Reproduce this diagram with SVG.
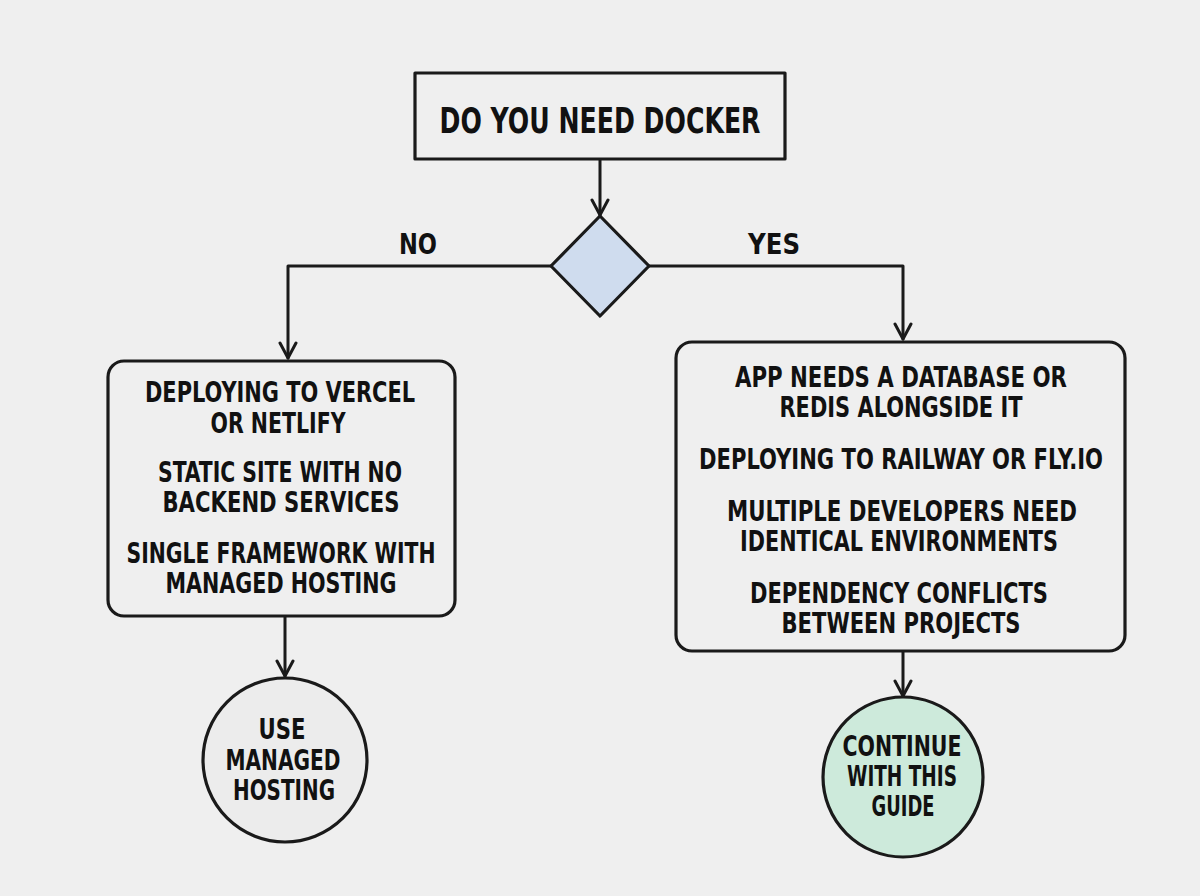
<svg xmlns="http://www.w3.org/2000/svg" width="1200" height="896" viewBox="0 0 1200 896">
<style>
.t{font-family:"DejaVu Sans Condensed","Liberation Sans",sans-serif;font-weight:bold;font-size:28px;fill:#111;text-anchor:middle}
.big{font-size:36px}
.shape{stroke:#1a1a1a;stroke-width:3.2;stroke-linejoin:round}
.line{fill:none;stroke:#1a1a1a;stroke-width:3;stroke-linecap:round;stroke-linejoin:round}
</style>
<defs>
<marker id="arr" viewBox="0 0 20 20" refX="18" refY="10" markerWidth="20" markerHeight="20" markerUnits="userSpaceOnUse" orient="auto">
<path d="M3,2 L18,10 L3,18" fill="none" stroke="#1a1a1a" stroke-width="3" stroke-linecap="round" stroke-linejoin="round"/>
</marker>
</defs>
<rect width="1200" height="896" fill="#efefef"/>
<g id="connectors">
<line class="line" x1="600" y1="159" x2="600" y2="215" marker-end="url(#arr)"/>
<polyline class="line" points="551,266 288,266 288,358" marker-end="url(#arr)"/>
<polyline class="line" points="649,266 903,266 903,339" marker-end="url(#arr)"/>
<line class="line" x1="285" y1="617" x2="285" y2="676" marker-end="url(#arr)"/>
<line class="line" x1="903" y1="652" x2="903" y2="696" marker-end="url(#arr)"/>
<text class="t" x="418" y="254" textLength="38" lengthAdjust="spacingAndGlyphs">NO</text>
<text class="t" x="774" y="254" textLength="52" lengthAdjust="spacingAndGlyphs">YES</text>
</g>
<g id="start">
<rect class="shape" x="415" y="73" width="370" height="86" fill="#efefef"/>
<text class="t big" x="600" y="133" textLength="321" lengthAdjust="spacingAndGlyphs">DO YOU NEED DOCKER</text>
</g>
<g id="decision">
<polygon class="shape" points="600,216 649,266 600,316 551,266" fill="#cfdcee"/>
</g>
<g id="no-box">
<rect class="shape" x="108" y="361" width="347" height="255" rx="16" fill="#efefef"/>
<text class="t" x="280" y="402" textLength="270" lengthAdjust="spacingAndGlyphs">DEPLOYING TO VERCEL</text>
<text class="t" x="278" y="433" textLength="135" lengthAdjust="spacingAndGlyphs">OR NETLIFY</text>
<text class="t" x="280" y="482" textLength="244" lengthAdjust="spacingAndGlyphs">STATIC SITE WITH NO</text>
<text class="t" x="281" y="512" textLength="237" lengthAdjust="spacingAndGlyphs">BACKEND SERVICES</text>
<text class="t" x="281" y="563" textLength="309" lengthAdjust="spacingAndGlyphs">SINGLE FRAMEWORK WITH</text>
<text class="t" x="281" y="593" textLength="231" lengthAdjust="spacingAndGlyphs">MANAGED HOSTING</text>
</g>
<g id="yes-box">
<rect class="shape" x="676" y="342" width="449" height="309" rx="16" fill="#efefef"/>
<text class="t" x="901" y="387" textLength="332" lengthAdjust="spacingAndGlyphs">APP NEEDS A DATABASE OR</text>
<text class="t" x="901" y="417" textLength="243" lengthAdjust="spacingAndGlyphs">REDIS ALONGSIDE IT</text>
<text class="t" x="901" y="469" textLength="404" lengthAdjust="spacingAndGlyphs">DEPLOYING TO RAILWAY OR FLY.IO</text>
<text class="t" x="902" y="521" textLength="350" lengthAdjust="spacingAndGlyphs">MULTIPLE DEVELOPERS NEED</text>
<text class="t" x="899" y="551" textLength="318" lengthAdjust="spacingAndGlyphs">IDENTICAL ENVIRONMENTS</text>
<text class="t" x="899" y="603" textLength="298" lengthAdjust="spacingAndGlyphs">DEPENDENCY CONFLICTS</text>
<text class="t" x="901" y="633" textLength="239" lengthAdjust="spacingAndGlyphs">BETWEEN PROJECTS</text>
</g>
<g id="use-managed">
<circle class="shape" cx="285" cy="760" r="82" fill="#ececec"/>
<text class="t" x="282" y="739" textLength="47" lengthAdjust="spacingAndGlyphs">USE</text>
<text class="t" x="283" y="770" textLength="115" lengthAdjust="spacingAndGlyphs">MANAGED</text>
<text class="t" x="284" y="800" textLength="102" lengthAdjust="spacingAndGlyphs">HOSTING</text>
</g>
<g id="continue">
<circle class="shape" cx="903" cy="777" r="80" fill="#cdeadb"/>
<text class="t" x="902" y="756" textLength="119" lengthAdjust="spacingAndGlyphs">CONTINUE</text>
<text class="t" x="902" y="786" textLength="110" lengthAdjust="spacingAndGlyphs">WITH THIS</text>
<text class="t" x="903" y="816" textLength="63" lengthAdjust="spacingAndGlyphs">GUIDE</text>
</g>
</svg>
